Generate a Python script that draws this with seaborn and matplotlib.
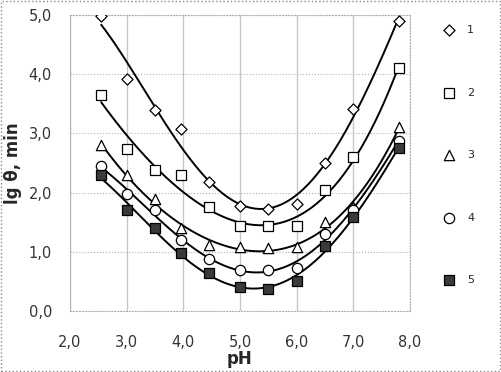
import numpy as np
import pandas as pd
import matplotlib
matplotlib.use("Agg")
from matplotlib import pyplot as plt
import seaborn as sns

ph = [2.55, 3.0, 3.5, 3.95, 4.45, 5.0, 5.5, 6.0, 6.5, 7.0, 7.8]
s1 = [4.98, 3.92, 3.40, 3.08, 2.18, 1.78, 1.72, 1.80, 2.50, 3.42, 4.90]
s2 = [3.65, 2.73, 2.38, 2.30, 1.75, 1.43, 1.43, 1.43, 2.05, 2.60, 4.10]
s3 = [2.80, 2.30, 1.90, 1.40, 1.12, 1.08, 1.06, 1.08, 1.50, 1.75, 3.10]
s4 = [2.45, 1.98, 1.70, 1.20, 0.88, 0.70, 0.70, 0.73, 1.30, 1.70, 2.88]
s5 = [2.30, 1.70, 1.40, 0.98, 0.65, 0.40, 0.38, 0.50, 1.10, 1.58, 2.75]
labels = ["1", "2", "3", "4", "5"]

series = [s1, s2, s3, s4, s5]
markers = ["D", "s", "^", "o", "s"]
sizes = [32, 60, 55, 55, 60]
faces = ["white", "white", "white", "white", "#3a3a3a"]

sns.set_style("white")
plt.rcParams["font.family"] = ["DejaVu Sans"]

fig = plt.figure(figsize=(5.01, 3.72), dpi=100)
ax = fig.add_axes([70 / 501, 1 - 311 / 372, 340 / 501, 296 / 372])

# polynomial trend lines through each series
xs = np.linspace(min(ph), max(ph), 200)
for vals, lab, m, sz, fc in zip(series, labels, markers, sizes, faces):
    df = pd.DataFrame({"pH": ph, "v": vals})
    coef = np.polyfit(ph, vals, 4)
    fit = pd.DataFrame({"pH": xs, "v": np.polyval(coef, xs)})
    sns.lineplot(data=fit, x="pH", y="v", color="black", lw=1.4, ax=ax, zorder=2)
    sns.scatterplot(data=df, x="pH", y="v", marker=m, s=sz, facecolor=fc,
                    edgecolor="black", linewidth=0.9, ax=ax, zorder=3, label=lab)

ax.set_xlim(2.0, 8.0)
ax.set_ylim(0.0, 5.0)
ax.set_xticks(np.arange(2.0, 8.01, 1.0))
ax.set_yticks(np.arange(0.0, 5.01, 1.0))
ax.set_xticklabels([f"{v:.1f}".replace(".", ",") for v in np.arange(2.0, 8.01, 1.0)], fontsize=10.5, color="#333333")
ax.set_yticklabels([f"{v:.1f}".replace(".", ",") for v in np.arange(0.0, 5.01, 1.0)], fontsize=10.5, color="#333333")
ax.tick_params(axis="x", pad=17, length=0)
ax.tick_params(axis="y", pad=13, length=0)
ax.grid(True, axis="x", color="#c8c8c8", lw=1.0)
ax.grid(True, axis="y", color="#b0b0b0", lw=0.8, ls=":")
for sp in ax.spines.values():
    sp.set_visible(True)
    sp.set_color("#b0b0b0")
    sp.set_linestyle(":")
    sp.set_linewidth(0.8)

ax.set_xlabel("pH", fontsize=12, fontweight="bold", labelpad=0)
ax.set_ylabel("lg θ, min", fontsize=12, fontweight="bold", labelpad=5)

ax.legend(loc="upper left", bbox_to_anchor=(1.07, 0.98), frameon=False,
          fontsize=8, labelspacing=4.72, handletextpad=0.6, borderaxespad=0)

border = plt.Rectangle((0.002, 0.003), 0.996, 0.994, transform=fig.transFigure,
                       fill=False, ec="#888888", ls=":", lw=1.0)
fig.patches.append(border)

plt.savefig("out.png", dpi=100)
